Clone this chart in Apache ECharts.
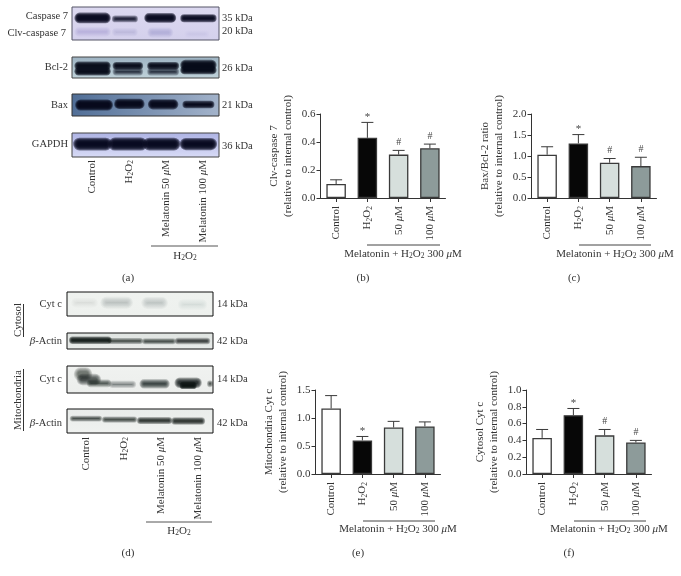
<!DOCTYPE html>
<html><head><meta charset="utf-8">
<style>html,body{margin:0;padding:0;background:#fff}#c{width:681px;height:576px}</style>
<script src="https://cdn.jsdelivr.net/npm/echarts@6/dist/echarts.min.js"></script>
</head><body><div id="c"></div>
<script>
// ---- bar chart data ----
const categories = ['Control', 'H{s|2}O{s|2}', '50 {i|μ}M', '100 {i|μ}M'];
const clvMean = [0.10, 0.43, 0.31, 0.355];
const clvHigh = [0.13, 0.54, 0.34, 0.385];
const clvSig  = ['', '*', '#', '#'];
const baxMean = [1.03, 1.30, 0.84, 0.76];
const baxHigh = [1.22, 1.51, 0.94, 0.97];
const baxSig  = ['', '*', '#', '#'];
const mitoMean = [1.17, 0.60, 0.83, 0.85];
const mitoHigh = [1.40, 0.67, 0.94, 0.93];
const mitoSig  = ['', '*', '', ''];
const cytoMean = [0.43, 0.70, 0.46, 0.375];
const cytoHigh = [0.53, 0.78, 0.53, 0.40];
const cytoSig  = ['', '*', '#', '#'];
const barColors = ['#ffffff', '#070707', '#d6dfdc', '#8d9b9a'];

// ---- blot bands: [x %, y %, width %, height %, opacity] ----
const caspaseBands = [[14,33,22,20,1],[36,36,15,9,.9],[60,33,19,17,1],[86,34,22,12,1]];
const caspaseFaint = [[14,75,22,16,.35],[36,76,15,13,.3],[60,77,15,18,.4],[85,82,14,10,.08]];
const bcl2Bands = [[14,42,22,22,1],[14,68,22,22,1],[38,42,18,18,1],[38,70,18,16,.8],[62,42,19,18,1],[62,70,19,16,.8],[86,38,22,30,1],[86,62,22,22,1]];
const baxBands = [[15,50,23,32,1],[39,45,18,28,1],[62,47,18,28,1],[86,48,19,16,1]];
const gapdhBands = [[14,46,23,32,1],[38,46,23,34,1],[61,46,22,32,1],[86,46,22,30,1]];
const cytoCytBands = [[12,45,14,14,.16],[34,44,18,24,.42],[60,45,14,24,.38],[86,52,16,18,.18]];
const cytoActinBands = [[16,45,27,26,.95],[40,50,22,18,.75],[63,52,21,18,.75],[86,50,22,20,.8]];
const mitoCytBands = [[11,30,10,36,.55],[15,50,14,28,.65],[22,64,14,14,.7],[38,68,16,12,.5],[60,66,18,20,.75],[83,62,16,24,.85],[83,72,9,12,1],[98,66,1.5,10,.8]];
const mitoActinBands = [[13,40,20,11,.75],[36,44,22,13,.75],[60,48,22,16,.85],[83,50,21,18,.85]];

const blots = [
  {rect:[72,7,147,33], bg:['#dcd9f0','#d4d0ec'], bands:[[caspaseFaint,'#8782c2',2],[caspaseBands,'#070920',2]], border:'#555566'},
  {rect:[72,57,147,21], bg:['#9db3c2','#c0d2da'], bands:[[bcl2Bands,'#060a18',2]], border:'#444'},
  {rect:[72,94,147,22], bg:['#4f6d96','#a4b4cb'], bands:[[baxBands,'#05081a',2]], border:'#333'},
  {rect:[72,133,147,24], bg:['#aeb3e4','#d8dbf6'], bands:[[gapdhBands,'#05071e',2.5]], border:'#444'},
  {rect:[67,292,146,24], bg:['#eff2ef','#eef1ee'], bands:[[cytoCytBands,'#6f7f7b',3]], border:'#111'},
  {rect:[67,333,146,16], bg:['#dfe4e1','#e9ecea'], bands:[[cytoActinBands,'#101614',1.6]], border:'#111'},
  {rect:[67,366,146,27], bg:['#f0f2f0','#eceeec'], bands:[[mitoCytBands,'#0c1412',2]], border:'#111'},
  {rect:[67,409,146,24], bg:['#e9ecea','#f0f2f0'], bands:[[mitoActinBands,'#101614',1.6]], border:'#111'}
];

const FONT = '"Liberation Serif","DejaVu Serif",serif';
const INK = '#333';
const richText = {
  s:{fontSize:7.5, verticalAlign:'bottom', padding:[5,0,0,0], fontFamily:FONT, fill:INK, color:INK},
  i:{fontStyle:'italic', fontSize:11, fontFamily:FONT, fill:INK, color:INK}
};

const charts = [
  {left:320.5, top:114, width:125, name:'Clv-caspase 7\n(relative to internal control)', mean:clvMean, high:clvHigh, sig:clvSig, max:0.6, step:0.2},
  {left:531.5, top:114, width:125, name:'Bax/Bcl-2 ratio\n(relative to internal control)', mean:baxMean, high:baxHigh, sig:baxSig, max:2.0, step:0.5},
  {left:315.5, top:390, width:125, name:'Mitochondria Cyt c\n(relative to internal control)', mean:mitoMean, high:mitoHigh, sig:mitoSig, max:1.5, step:0.5},
  {left:526.5, top:390, width:125, name:'Cytosol Cyt c\n(relative to internal control)', mean:cytoMean, high:cytoHigh, sig:cytoSig, max:1.0, step:0.2}
];

const grid=[], xAxis=[], yAxis=[], series=[];
charts.forEach((c,i)=>{
  grid.push({left:c.left, top:c.top, width:c.width, height:84, containLabel:false});
  xAxis.push({type:'category', gridIndex:i, data:categories,
    axisLine:{show:true, onZero:false, lineStyle:{color:INK,width:1}},
    axisTick:{show:true, alignWithLabel:true, length:4, lineStyle:{color:INK}},
    axisLabel:{rotate:90, margin:8, interval:0, color:INK, fontFamily:FONT, fontSize:11, rich:richText}});
  yAxis.push({type:'value', gridIndex:i, min:0, max:c.max, interval:c.step, name:c.name,
    nameLocation:'middle', nameGap:25, nameTextStyle:{color:INK, fontFamily:FONT, fontSize:11, lineHeight:14},
    splitLine:{show:false},
    axisLine:{show:true, lineStyle:{color:INK,width:1}},
    axisTick:{show:true, length:4, lineStyle:{color:INK}},
    axisLabel:{margin:5, color:INK, fontFamily:FONT, fontSize:11, formatter:v=>v.toFixed(1)}});
  series.push({type:'bar', xAxisIndex:i, yAxisIndex:i, barWidth:19.5, silent:true,
    data:c.mean.map((v,k)=>({value:v, itemStyle:{color:barColors[k], borderColor:'#3a3a3a', borderWidth:1.3}}))});
  series.push({type:'custom', xAxisIndex:i, yAxisIndex:i, silent:true, clip:false, z:1,
    data:c.mean.map((v,k)=>[k,v,c.high[k]]),
    renderItem:(p,api)=>{
      const a=api.coord([api.value(0),api.value(1)]), b=api.coord([api.value(0),api.value(2)]);
      const ls={stroke:'#3a3a3a', lineWidth:1};
      const mark=c.sig[p.dataIndex];
      return {type:'group', children:[
        {type:'line', shape:{x1:a[0],y1:a[1],x2:a[0],y2:b[1]}, style:ls},
        {type:'line', shape:{x1:a[0]-6,y1:b[1],x2:a[0]+6,y2:b[1]}, style:ls},
        {type:'text', style:{text:mark, x:a[0], y:b[1]-(mark==='*'?0:3), textAlign:'center', textVerticalAlign:'bottom', fill:'#444', font:(mark==='*'?'11px ':'10px ')+FONT}}
      ]};
    }});
});

blots.forEach((b,i)=>{
  const g=charts.length+i;
  grid.push({show:true, left:b.rect[0], top:b.rect[1], width:b.rect[2], height:b.rect[3], borderColor:b.border, borderWidth:1,
    backgroundColor:{type:'linear',x:0,y:0,x2:i===2?1:0,y2:1,colorStops:[{offset:0,color:b.bg[0]},{offset:1,color:b.bg[1]}]}});
  xAxis.push({type:'value', gridIndex:g, min:0, max:100, show:false});
  yAxis.push({type:'value', gridIndex:g, min:0, max:100, inverse:true, show:false});
  b.bands.forEach(([rows,col,blur])=>{
    series.push({type:'custom', xAxisIndex:g, yAxisIndex:g, silent:true, clip:true, data:rows,
      renderItem:(p,api)=>{
        const ctr=api.coord([api.value(0),api.value(1)]);
        const sz=api.size([api.value(2),api.value(3)]);
        const layers=6, a=1-Math.pow(1-Math.min(api.value(4),.985),1/layers);
        const children=[];
        for(let k=0;k<layers;k++){
          const grow=blur*(1-2*k/(layers-1));
          const w=Math.max(1,sz[0]+2*grow), h=Math.max(.6,sz[1]+2*grow);
          children.push({type:'rect', shape:{x:ctr[0]-w/2,y:ctr[1]-h/2,width:w,height:h,r:h/2}, style:{fill:col, opacity:a}});
        }
        return {type:'group', children};
      }});
  });
});

// ---- text annotations ----
const txt=(x,y,text,align,size)=>({type:'text', x, y, silent:true, style:{text, rich:richText, fill:INK, font:(size||10.5)+'px '+FONT, align:align||'left', verticalAlign:'middle'}});
const rot=(x,y,text)=>({type:'text', x, y, rotation:Math.PI/2, silent:true, style:{text, rich:richText, fill:INK, font:'11px '+FONT, align:'right', verticalAlign:'middle'}});
const rule=(x1,y1,x2,y2,col)=>({type:'line', silent:true, shape:{x1,y1,x2,y2}, style:{stroke:col||'#555', lineWidth:1}});

const leftA=[[68,16,'Caspase 7'],[66,33,'Clv-caspase 7'],[68,67,'Bcl-2'],[68,105,'Bax'],[68,144,'GAPDH']];
const kdaA=[[222,18,'35 kDa'],[222,31,'20 kDa'],[222,68,'26 kDa'],[222,105,'21 kDa'],[222,146,'36 kDa']];
const leftD=[[62,304,'Cyt c'],[62,341,'{i|β}-Actin'],[62,379,'Cyt c'],[62,423,'{i|β}-Actin']];
const kdaD=[[217,304,'14 kDa'],[217,341,'42 kDa'],[217,379,'14 kDa'],[217,423,'42 kDa']];
const lanes=['Control','H{s|2}O{s|2}','Melatonin 50 {i|μ}M','Melatonin 100 {i|μ}M'];
const treat='Melatonin + H{s|2}O{s|2} 300 {i|μ}M';
const g=[];
leftA.concat(leftD).forEach(r=>g.push(txt(r[0],r[1],r[2],'right',10.5)));
kdaA.concat(kdaD).forEach(r=>g.push(txt(r[0],r[1],r[2])));
[92,129,166,203].forEach((x,i)=>g.push(rot(x,160,lanes[i])));
[86,124,161,198].forEach((x,i)=>g.push(rot(x,437,lanes[i])));
g.push(rule(151,246,218,246), txt(185,256,'H{s|2}O{s|2}','center',11), txt(128,278,'(a)','center',11));
g.push(rule(146,522,212,522), txt(179,531,'H{s|2}O{s|2}','center',11), txt(128,553,'(d)','center',11));
[[367,440,245,403,254,363,278,'(b)'],[579,651,245,615,254,574,278,'(c)'],[363,435,521,398,529,358,553,'(e)'],[574,646,521,609,529,569,553,'(f)']]
  .forEach(r=>g.push(rule(r[0],r[2],r[1],r[2],'#444'), txt(r[3],r[4],treat,'center',11), txt(r[5],r[6],r[7],'center',11)));
g.push({type:'text', x:18, y:320, rotation:Math.PI/2, silent:true, style:{text:'Cytosol', fill:INK, font:'11px '+FONT, align:'center', verticalAlign:'middle'}});
g.push({type:'text', x:18, y:400, rotation:Math.PI/2, silent:true, style:{text:'Mitochondria', fill:INK, font:'11px '+FONT, align:'center', verticalAlign:'middle'}});
g.push(rule(23.5,304,23.5,337,'#333'), rule(23.5,369,23.5,431,'#333'));

const chart=echarts.init(document.getElementById('c'),null,{renderer:'canvas'});
chart.setOption({animation:false, backgroundColor:'#fff', grid, xAxis, yAxis, series, graphic:{elements:g}});
</script></body></html>
